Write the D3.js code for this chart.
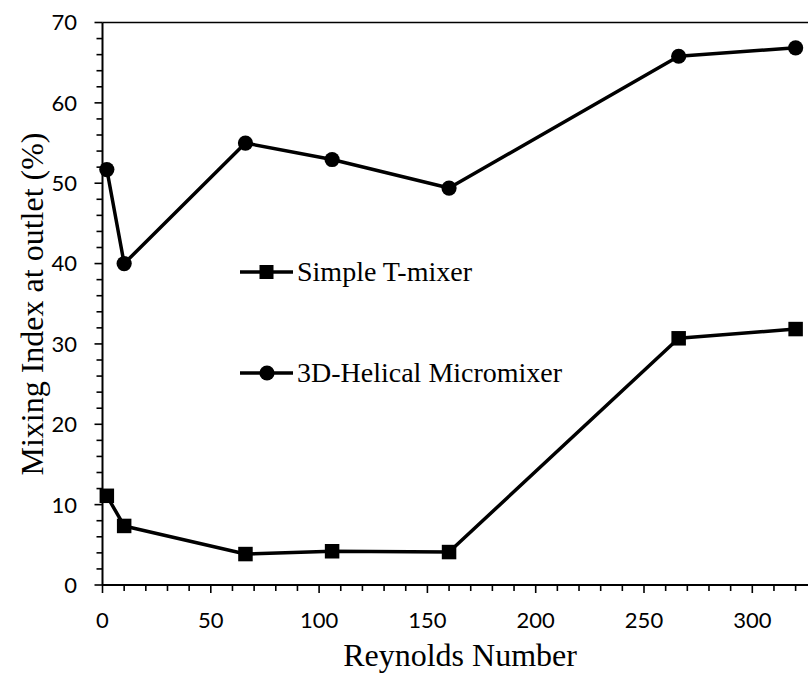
<!DOCTYPE html>
<html>
<head>
<meta charset="utf-8">
<script src="https://cdn.jsdelivr.net/npm/d3@7"></script>
<style>
  html, body { margin: 0; padding: 0; background: #fff; }
  svg { display: block; }
</style>
</head>
<body>
<svg id="chart" width="808" height="679"></svg>
<script>
// Reynolds numbers and mixing index (%) at the outlet for each mixer
const reynolds = [2, 10, 66, 106, 160, 266, 320];
const tMixer = [11.1, 7.35, 3.85, 4.2, 4.1, 30.7, 31.85];
const helical = [51.7, 40.0, 55.0, 52.95, 49.4, 65.8, 66.85];
const seriesNames = ["Simple T-mixer", "3D-Helical Micromixer"];
const xTickValues = [0, 50, 100, 150, 200, 250, 300];
const yTickValues = [0, 10, 20, 30, 40, 50, 60, 70];

const svg = d3.select("#chart");
const W = 808, H = 679;

const x = d3.scaleLinear().domain([0, 350]).range([102.5, 102.5 + 350 * 2.166]);
const y = d3.scaleLinear().domain([0, 70]).range([585, 22.5]);

const tickFont = "Lato, 'Open Sans', sans-serif";
const serif = "'Liberation Serif', 'Times New Roman', serif";

// top frame line
svg.append("line")
  .attr("x1", x(0)).attr("x2", W)
  .attr("y1", y(70)).attr("y2", y(70))
  .attr("stroke", "#000").attr("stroke-width", 1.5);

// x axis: minor ticks every 10, labelled every 50
const xMinor = d3.range(0, 331, 10);
const xAxis = svg.append("g").attr("transform", `translate(0,${y(0)})`);
xAxis.append("line").attr("x1", x(0)).attr("x2", W).attr("y1", 0).attr("y2", 0)
  .attr("stroke", "#000").attr("stroke-width", 2);
xAxis.selectAll("line.minor").data(xMinor).join("line").attr("class", "minor")
  .attr("x1", d => x(d)).attr("x2", d => x(d))
  .attr("y1", 0).attr("y2", d => d % 50 === 0 ? 8 : 6)
  .attr("stroke", "#000").attr("stroke-width", 1.6);
xAxis.selectAll("text").data(xTickValues).join("text")
  .attr("x", d => x(d)).attr("y", 43)
  .attr("text-anchor", "middle")
  .attr("font-family", tickFont).attr("font-size", 22)
  .attr("fill", "#000")
  .text(d => d);

// y axis: minor ticks every 2, labelled every 10
const yMinor = d3.range(0, 71, 2);
const yAxis = svg.append("g").attr("transform", `translate(${x(0)},0)`);
yAxis.append("line").attr("x1", 0).attr("x2", 0).attr("y1", y(0)).attr("y2", y(70))
  .attr("stroke", "#000").attr("stroke-width", 2);
yAxis.selectAll("line.minor").data(yMinor).join("line").attr("class", "minor")
  .attr("x1", d => d % 10 === 0 ? -8 : -6).attr("x2", 0)
  .attr("y1", d => y(d)).attr("y2", d => y(d))
  .attr("stroke", "#000").attr("stroke-width", 1.6);
yAxis.selectAll("text").data(yTickValues).join("text")
  .attr("x", -25.5).attr("y", d => y(d))
  .attr("dy", "0.36em")
  .attr("text-anchor", "end")
  .attr("font-family", tickFont).attr("font-size", 22)
  .attr("fill", "#000")
  .text(d => d);

// axis titles
svg.append("text")
  .attr("x", 460).attr("y", 666)
  .attr("text-anchor", "middle")
  .attr("font-family", serif).attr("font-size", 32)
  .attr("fill", "#000")
  .text("Reynolds Number");
svg.append("text")
  .attr("transform", "translate(43,304) rotate(-90)")
  .attr("text-anchor", "middle")
  .attr("font-family", serif).attr("font-size", 32)
  .attr("fill", "#000")
  .text("Mixing Index at outlet (%)");

// series
const line = d3.line().x(d => x(d[0])).y(d => y(d[1]));
const tData = reynolds.map((r, i) => [r, tMixer[i]]);
const hData = reynolds.map((r, i) => [r, helical[i]]);

svg.append("path").datum(tData).attr("d", line)
  .attr("fill", "none").attr("stroke", "#000").attr("stroke-width", 3.5)
  .attr("stroke-linejoin", "round");
svg.append("path").datum(hData).attr("d", line)
  .attr("fill", "none").attr("stroke", "#000").attr("stroke-width", 3.5)
  .attr("stroke-linejoin", "round");

const sq = 14.5;
svg.selectAll("rect.pt").data(tData).join("rect").attr("class", "pt")
  .attr("x", d => x(d[0]) - sq / 2).attr("y", d => y(d[1]) - sq / 2)
  .attr("width", sq).attr("height", sq).attr("fill", "#000");
svg.selectAll("circle.pt").data(hData).join("circle").attr("class", "pt")
  .attr("cx", d => x(d[0])).attr("cy", d => y(d[1]))
  .attr("r", 7.6).attr("fill", "#000");

// legend
const legend = svg.append("g");
const legendRows = [{ name: seriesNames[0], y: 272, shape: "square" },
                    { name: seriesNames[1], y: 373, shape: "circle" }];
legendRows.forEach(row => {
  const g = legend.append("g").attr("transform", `translate(0,${row.y})`);
  g.append("line").attr("x1", 240).attr("x2", 293).attr("y1", 0).attr("y2", 0)
    .attr("stroke", "#000").attr("stroke-width", 3.5);
  if (row.shape === "square") {
    g.append("rect").attr("x", 266.5 - 7).attr("y", -7).attr("width", 14).attr("height", 14).attr("fill", "#000");
  } else {
    g.append("circle").attr("cx", 267).attr("cy", 0).attr("r", 7.6).attr("fill", "#000");
  }
  g.append("text").attr("x", 297).attr("y", 9)
    .attr("font-family", serif).attr("font-size", 28)
    .attr("fill", "#000")
    .text(row.name);
});
</script>
</body>
</html>
